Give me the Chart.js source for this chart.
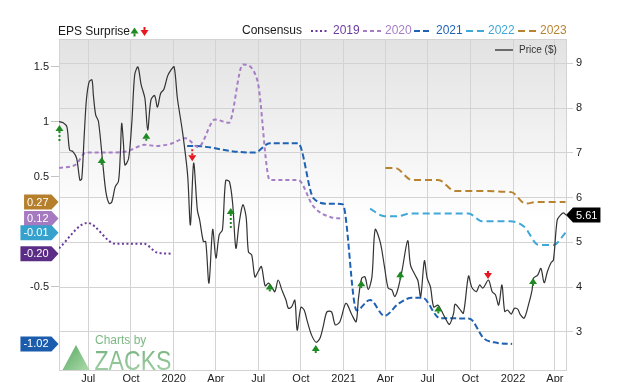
<!DOCTYPE html>
<html><head><meta charset="utf-8">
<script src="https://cdn.jsdelivr.net/npm/chart.js@4.4.1/dist/chart.umd.min.js"></script>
<style>html,body{margin:0;padding:0;background:#fff;}#wrap{width:624px;height:382px;}</style>
</head><body><div id="wrap"><canvas id="c" width="624" height="382"></canvas></div>
<script>
// ---------- DATA ----------
const START_DATE = '2019-04-29';
const END_DATE = '2022-04-25';
const xTickDates = ['2019-07-01','2019-10-01','2020-01-01','2020-04-01','2020-07-01','2020-10-01','2021-01-01','2021-04-01','2021-07-01','2021-10-01','2022-01-01','2022-04-01'];
const xTickLabels = ['Jul','Oct','2020','Apr','Jul','Oct','2021','Apr','Jul','Oct','2022','Apr'];
const priceTicks = [3,4,5,6,7,8,9];
const epsTicks = [-0.5,0.5,1,1.5];

const priceDates = [
'2019-04-29','2019-05-08','2019-05-16','2019-05-22','2019-05-29','2019-06-06','2019-06-13','2019-06-17','2019-06-22','2019-06-27',
'2019-07-03','2019-07-09','2019-07-12','2019-07-17','2019-07-23','2019-08-01','2019-08-08','2019-08-15','2019-08-21','2019-08-28',
'2019-09-04','2019-09-08','2019-09-11','2019-09-15','2019-09-18','2019-09-26','2019-10-03','2019-10-09','2019-10-16','2019-10-23',
'2019-10-31','2019-11-06','2019-11-13','2019-11-21','2019-11-27','2019-12-04','2019-12-11','2019-12-19','2019-12-26','2020-01-02',
'2020-01-09','2020-01-20','2020-01-31','2020-02-06','2020-02-13','2020-02-21','2020-02-26','2020-03-05','2020-03-10','2020-03-17',
'2020-03-25','2020-04-01','2020-04-08','2020-04-15','2020-04-22','2020-04-30','2020-05-07','2020-05-14','2020-05-21','2020-05-29',
'2020-06-05','2020-06-10','2020-06-17','2020-06-24','2020-07-01','2020-07-08','2020-07-16','2020-07-23','2020-07-30','2020-08-06',
'2020-08-13','2020-08-21','2020-08-30','2020-09-04','2020-09-11','2020-09-18','2020-09-23','2020-10-01','2020-10-08','2020-10-15',
'2020-10-24','2020-11-03','2020-11-11','2020-11-18','2020-11-26','2020-12-06','2020-12-14','2020-12-24','2021-01-06','2021-01-19',
'2021-01-28','2021-02-02','2021-02-09','2021-02-16','2021-02-23','2021-03-03','2021-03-10','2021-03-21','2021-03-30','2021-04-07',
'2021-04-15','2021-04-21','2021-04-28','2021-05-07','2021-05-19','2021-05-25','2021-06-04','2021-06-10','2021-06-16','2021-06-24',
'2021-06-30','2021-07-07','2021-07-14','2021-07-23','2021-07-30','2021-08-08','2021-08-17','2021-08-26','2021-08-29','2021-09-08',
'2021-09-16','2021-09-27','2021-10-04','2021-10-14','2021-10-21','2021-10-28','2021-11-09','2021-11-17','2021-11-24','2021-12-01',
'2021-12-08','2021-12-14','2021-12-20','2021-12-28','2022-01-04','2022-01-11','2022-01-17','2022-01-25','2022-02-03','2022-02-11',
'2022-02-14','2022-02-23','2022-03-02','2022-03-09','2022-03-16','2022-03-24','2022-03-29','2022-04-06','2022-04-13','2022-04-20',
'2022-04-25'];
const priceValues = [
7.70,7.67,7.58,7.06,7.03,6.88,6.39,6.42,7.33,8.18,
8.59,8.63,8.29,7.85,7.70,6.80,6.13,5.87,5.91,6.24,
6.36,6.95,7.66,7.18,6.73,6.88,7.70,8.74,8.92,8.52,
8.22,7.51,8.18,8.28,8.02,8.33,8.42,8.72,8.85,8.92,
8.22,7.47,6.51,5.39,6.77,5.72,5.50,5.02,5.02,4.09,
5.29,4.65,5.17,5.28,6.38,6.36,5.87,4.87,5.43,5.84,
5.57,4.79,4.72,4.23,4.35,4.46,4.03,4.09,4.01,3.90,
4.16,3.94,3.71,3.53,3.56,3.71,3.04,3.55,3.49,3.23,
2.93,2.77,2.86,3.12,3.45,3.45,3.16,3.23,3.64,3.38,
3.23,3.75,4.20,4.23,3.95,4.23,5.29,5.00,4.46,3.98,
3.94,3.79,3.96,4.38,5.04,4.50,4.27,4.15,3.79,4.59,
4.20,4.01,3.56,3.60,3.49,3.31,3.17,3.42,3.62,3.51,
3.42,4.25,4.00,3.90,4.05,3.98,4.16,3.90,3.83,3.60,
4.05,3.46,3.49,3.40,3.53,3.51,3.38,3.31,3.60,3.94,
4.20,4.27,4.42,4.10,4.35,4.55,4.61,5.50,5.61,5.66,
5.61];

const cons2019Dates = ['2019-04-29','2019-06-29','2019-08-29','2019-10-29','2019-11-27','2019-12-30'];
const cons2019Values = [-0.15,0.08,-0.11,-0.11,-0.19,-0.20];

const cons2020Dates = ['2019-04-29','2019-06-04','2019-06-26','2019-08-08','2019-09-21','2019-10-31','2019-11-24','2019-12-26','2020-01-27','2020-02-23','2020-03-30','2020-04-29','2020-05-29','2020-06-29','2020-07-26','2020-09-25','2020-10-28','2020-12-06','2020-12-28'];
const cons2020Values = [0.58,0.61,0.72,0.72,0.73,0.79,0.78,0.80,0.85,0.77,1.02,0.99,1.52,1.38,0.47,0.47,0.23,0.13,0.12];

const cons2021Dates = ['2020-01-30','2020-03-05','2020-05-08','2020-06-24','2020-07-26','2020-09-25','2020-10-28','2020-11-29','2020-12-30','2021-01-29','2021-02-27','2021-03-30','2021-04-29','2021-05-28','2021-06-20','2021-07-27','2021-09-29','2021-10-30','2021-11-27','2021-12-30'];
const cons2021Values = [0.78,0.775,0.73,0.72,0.805,0.805,0.305,0.255,0.25,-0.715,-0.62,-0.765,-0.655,-0.60,-0.60,-0.785,-0.79,-0.97,-1.01,-1.02];

const cons2022Dates = ['2021-02-27','2021-03-30','2021-04-26','2021-05-24','2021-09-27','2021-10-27','2021-12-26','2022-01-25','2022-02-25','2022-03-29','2022-04-24'];
const cons2022Values = [0.21,0.14,0.14,0.165,0.165,0.095,0.095,0.045,-0.12,-0.12,-0.01];

const cons2023Dates = ['2021-04-01','2021-04-22','2021-05-28','2021-07-24','2021-08-29','2021-10-01','2021-12-28','2022-01-28','2022-02-20','2022-04-24'];
const cons2023Values = [0.58,0.58,0.47,0.47,0.37,0.37,0.36,0.255,0.27,0.27];

const surpriseDates = ['2019-04-30','2019-07-30','2019-11-03','2020-02-10','2020-05-03','2020-07-26','2020-11-02','2021-02-08','2021-05-03','2021-07-24','2021-11-08','2022-02-13'];
const surpriseActual = [0.97,0.68,0.90,0.64,0.215,-0.47,-1.03,-0.44,-0.36,-0.67,-0.43,-0.42];
const surpriseEstimate = [0.82,0.60,0.84,0.76,0.015,-0.54,-1.09,-0.50,-0.42,-0.71,-0.37,-0.48];

// ---------- HELPERS ----------
const FONT = '"Liberation Sans", Arial, Helvetica, sans-serif';
const ms = s => Date.UTC(+s.slice(0,4), +s.slice(5,7)-1, +s.slice(8,10));
const day = s => (ms(s) - ms(START_DATE)) / 864e5;
const pts = (ds, vs) => ds.map((d,i) => ({x: day(d), y: vs[i]}));

const C = {
  y2019:'#6a3c9e', y2020:'#a67ec6', y2021:'#1f62b4', y2022:'#3fa8d8', y2023:'#b8832f',
  t2019:'#5b2d86', t2020:'#a57ac0', t2021:'#1b5dac', t2022:'#36a1cd', t2023:'#b67f2c',
  green:'#1f8a22', red:'#e8161e', grid:'#d3d3d3'
};

function drawArrow(ctx, x, yTip, yTail, up, color, solid){
  const h = 6, w = 4;
  const yBase = up ? yTip + h : yTip - h;
  ctx.save();
  ctx.fillStyle = color; ctx.strokeStyle = color;
  ctx.beginPath(); ctx.moveTo(x, yTip); ctx.lineTo(x - w, yBase); ctx.lineTo(x + w, yBase); ctx.closePath(); ctx.fill();
  let yEnd = yTail;
  if (up && yEnd < yBase + 3) yEnd = yBase + 3;
  if (!up && yEnd > yBase - 3) yEnd = yBase - 3;
  ctx.lineWidth = 2;
  if (!solid) ctx.setLineDash([2,2]);
  ctx.beginPath(); ctx.moveTo(x, yBase); ctx.lineTo(x, yEnd); ctx.stroke();
  ctx.restore();
}

function tagRight(ctx, xTip, y, text, color){
  ctx.save();
  ctx.font = '11px ' + FONT;
  const tw = ctx.measureText(text).width;
  const h = 15, tip = 7, pad = 3;
  const xr = xTip - tip, xl = xr - tw - 2*pad;
  ctx.fillStyle = color;
  ctx.beginPath();
  ctx.moveTo(xl, y - h/2); ctx.lineTo(xr, y - h/2); ctx.lineTo(xTip, y); ctx.lineTo(xr, y + h/2); ctx.lineTo(xl, y + h/2); ctx.closePath();
  ctx.fill();
  ctx.fillStyle = '#fff'; ctx.textBaseline = 'middle'; ctx.textAlign = 'left';
  ctx.fillText(text, xl + pad, y + 0.5);
  ctx.restore();
}
function tagLeft(ctx, xTip, y, text, color){
  ctx.save();
  ctx.font = '11px ' + FONT;
  const tw = ctx.measureText(text).width;
  const h = 15, tip = 7, pad = 3;
  const xl = xTip + tip, xr = xl + tw + 2*pad;
  ctx.fillStyle = color;
  ctx.beginPath();
  ctx.moveTo(xTip, y); ctx.lineTo(xl, y - h/2); ctx.lineTo(xr, y - h/2); ctx.lineTo(xr, y + h/2); ctx.lineTo(xl, y + h/2); ctx.closePath();
  ctx.fill();
  ctx.fillStyle = '#fff'; ctx.textBaseline = 'middle'; ctx.textAlign = 'left';
  ctx.fillText(text, xl + pad, y + 0.5);
  ctx.restore();
}

const decor = {
  id: 'decor',
  beforeDraw(chart){
    const {ctx, chartArea: a} = chart;
    ctx.save();
    ctx.fillStyle = '#fff'; ctx.fillRect(0, 0, chart.width, chart.height);
    const g = ctx.createLinearGradient(0, a.top, 0, a.bottom);
    g.addColorStop(0, '#e2e2e2'); g.addColorStop(0.55, '#ffffff'); g.addColorStop(1, '#ffffff');
    ctx.fillStyle = g; ctx.fillRect(a.left, a.top, a.right - a.left, a.bottom - a.top);
    ctx.strokeStyle = C.grid; ctx.lineWidth = 1;
    ctx.beginPath(); ctx.moveTo(a.left, a.top + 0.5); ctx.lineTo(a.right, a.top + 0.5); ctx.stroke();
    ctx.restore();
  },
  afterDatasetsDraw(chart){
    const {ctx} = chart;
    const xs = chart.scales.x, ys = chart.scales.eps;
    surpriseDates.forEach((d, i) => {
      const up = surpriseActual[i] >= surpriseEstimate[i];
      drawArrow(ctx, xs.getPixelForValue(day(d)), ys.getPixelForValue(surpriseActual[i]), ys.getPixelForValue(surpriseEstimate[i]), up, up ? C.green : C.red, false);
    });
  },
  afterDraw(chart){
    const {ctx, chartArea: a} = chart;
    const ys = chart.scales.eps, yp = chart.scales.price;
    ctx.save();
    // Top legend
    ctx.textBaseline = 'middle'; ctx.textAlign = 'left';
    ctx.font = '12px ' + FONT; ctx.fillStyle = '#1a1a1a';
    ctx.fillText('EPS Surprise', 58, 32);
    drawArrow(ctx, 134.5, 27.5, 36, true, C.green, true);
    drawArrow(ctx, 144.5, 36, 27.5, false, C.red, true);
    ctx.font = '12px ' + FONT; ctx.fillStyle = '#1a1a1a';
    ctx.fillText('Consensus', 242, 31);
    const leg = [
      ['2019', C.y2019, [2,2.5], 311],
      ['2020', C.y2020, [4,3], 363],
      ['2021', C.y2021, [6,3], 414],
      ['2022', C.y2022, [7,4], 466],
      ['2023', C.y2023, [7,4], 518]
    ];
    leg.forEach(([t, col, dash, x0]) => {
      ctx.save();
      ctx.strokeStyle = col; ctx.lineWidth = 2; ctx.setLineDash(dash);
      ctx.beginPath(); ctx.moveTo(x0, 31); ctx.lineTo(x0 + 18, 31); ctx.stroke();
      ctx.restore();
      ctx.fillStyle = col; ctx.font = '12px ' + FONT;
      ctx.fillText(t, x0 + 22, 31);
    });
    // Price legend inside plot
    ctx.strokeStyle = '#444'; ctx.lineWidth = 1.5;
    ctx.beginPath(); ctx.moveTo(495, 50); ctx.lineTo(513, 50); ctx.stroke();
    ctx.fillStyle = '#333'; ctx.font = '10px ' + FONT;
    ctx.fillText('Price ($)', 519, 50.5);

    // Zacks logo
    ctx.save();
    ctx.globalAlpha = 0.85;
    const tg = ctx.createLinearGradient(63, 345, 89, 370);
    tg.addColorStop(0, '#3a9849'); tg.addColorStop(1, '#9ed59a');
    ctx.fillStyle = tg;
    ctx.beginPath(); ctx.moveTo(76, 345); ctx.lineTo(89.5, 370); ctx.lineTo(62.5, 370); ctx.closePath(); ctx.fill();
    ctx.fillStyle = '#66ab6f'; ctx.font = '12px ' + FONT; ctx.textBaseline = 'alphabetic';
    ctx.fillText('Charts by', 95, 344);
    ctx.font = '28px ' + FONT;
    const zw = ctx.measureText('ZACKS').width;
    ctx.translate(94.5, 370); ctx.scale(77 / zw, 1);
    const zg = ctx.createLinearGradient(0, -20, 0, 0);
    zg.addColorStop(0, '#62a96b'); zg.addColorStop(1, '#8cc592');
    ctx.fillStyle = zg;
    ctx.fillText('ZACKS', 0, 0);
    ctx.restore();

    // Left value tags (latest consensus)
    const tags = [
      [cons2023Values, C.t2023], [cons2020Values, C.t2020], [cons2022Values, C.t2022],
      [cons2019Values, C.t2019], [cons2021Values, C.t2021]
    ].map(([arr, col]) => ({v: arr[arr.length - 1], col})).sort((p, q) => q.v - p.v);
    tags.forEach(t => tagRight(ctx, a.left - 0.5, ys.getPixelForValue(t.v), t.v.toFixed(2), t.col));
    // Right price tag
    const lp = priceValues[priceValues.length - 1];
    tagLeft(ctx, a.right, yp.getPixelForValue(lp), lp.toFixed(2), '#000');
    ctx.restore();
  }
};

Chart.defaults.font.family = FONT;
Chart.defaults.color = '#222';

const lineDs = (label, data, color, dash, axis) => ({
  label, data, yAxisID: axis, borderColor: color, borderDash: dash, borderWidth: 2,
  pointRadius: 0, fill: false, cubicInterpolationMode: 'monotone', borderCapStyle: 'butt'
});

new Chart(document.getElementById('c'), {
  type: 'line',
  data: {
    datasets: [
      { label: 'Price ($)', data: pts(priceDates, priceValues), yAxisID: 'price', borderColor: '#333', borderWidth: 1.2, pointRadius: 0, tension: 0.3, fill: false },
      lineDs('2019', pts(cons2019Dates, cons2019Values), C.y2019, [2,2.5], 'eps'),
      lineDs('2020', pts(cons2020Dates, cons2020Values), C.y2020, [4,3], 'eps'),
      lineDs('2021', pts(cons2021Dates, cons2021Values), C.y2021, [6,3], 'eps'),
      lineDs('2022', pts(cons2022Dates, cons2022Values), C.y2022, [7,4], 'eps'),
      lineDs('2023', pts(cons2023Dates, cons2023Values), C.y2023, [7,4], 'eps')
    ]
  },
  options: {
    responsive: false, animation: false, devicePixelRatio: 1,
    layout: { padding: { top: 39, left: 0, right: 0, bottom: 0 } },
    plugins: { legend: { display: false }, tooltip: { enabled: false } },
    scales: {
      x: {
        type: 'linear', min: 0, max: day(END_DATE),
        afterBuildTicks: s => { s.ticks = xTickDates.map(d => ({ value: day(d) })); },
        ticks: { callback: (v, i) => xTickLabels[i], autoSkip: false, maxRotation: 0, padding: 2, color: '#222', font: { size: 11 } },
        grid: { color: C.grid, lineWidth: 1, drawTicks: false },
        border: { display: true, color: C.grid },
        afterFit: s => { s.height = 12; }
      },
      eps: {
        position: 'left', min: -1.257, max: 1.752,
        afterBuildTicks: s => { s.ticks = epsTicks.map(v => ({ value: v })); },
        ticks: { callback: v => String(v), padding: 2, color: '#222', font: { size: 11 } },
        grid: { drawOnChartArea: false, color: '#c4c4c4', tickLength: 8 },
        border: { display: true, color: C.grid },
        afterFit: s => { s.width = 59; }
      },
      price: {
        position: 'right', min: 2.151, max: 9.543,
        afterBuildTicks: s => { s.ticks = priceTicks.map(v => ({ value: v })); },
        ticks: { padding: 3, color: '#222', font: { size: 11 } },
        grid: { color: C.grid, lineWidth: 1, tickLength: 7 },
        border: { display: true, color: C.grid },
        afterFit: s => { s.width = 58; }
      }
    }
  },
  plugins: [decor]
});
</script>
</body></html>
